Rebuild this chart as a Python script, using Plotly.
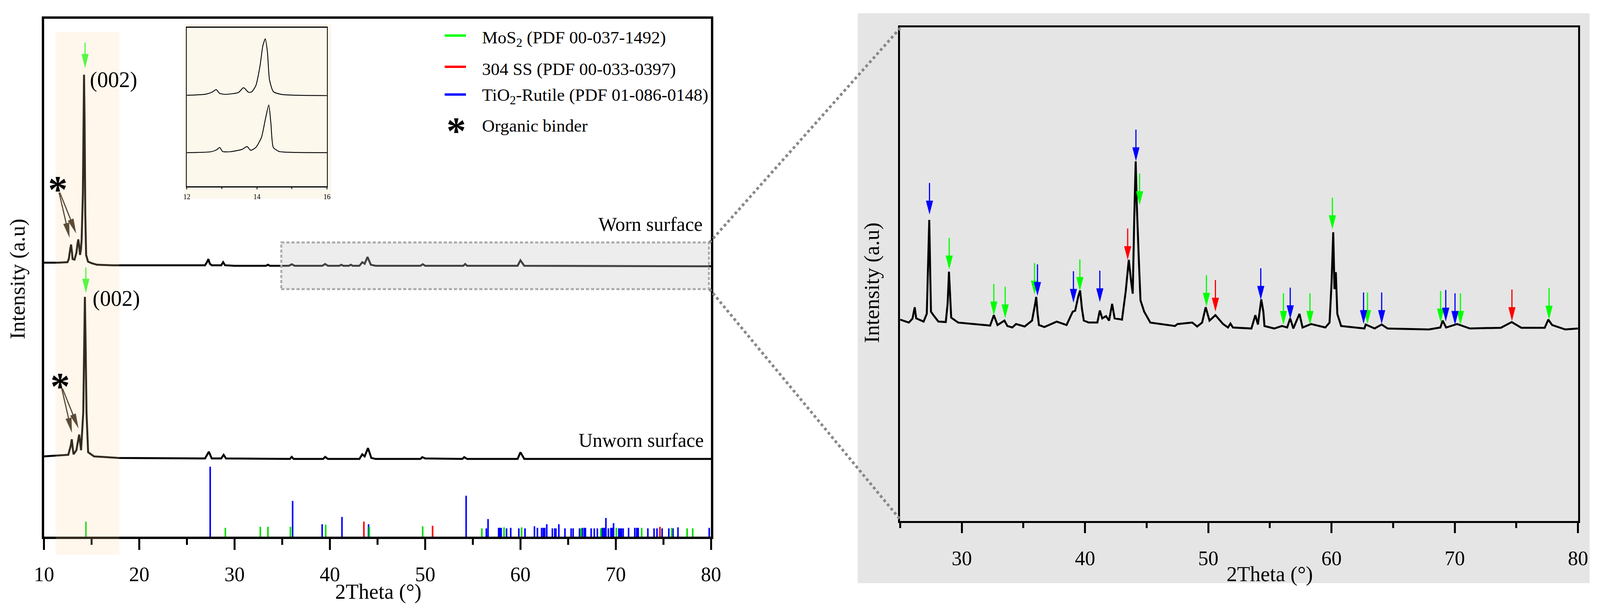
import math
import plotly.graph_objects as go

W_REF, H = 4145, 1549          # reference picture size (coordinates below are read in it)
W = 4096                       # width actually captured by the screenshot
SERIF = "Liberation Serif, Times New Roman, serif"

# ---------------- data ----------------
# Left panel, worn surface pattern (2theta, a.u.)
worn_x = [10.0, 11.5, 12.46, 12.6, 12.75, 12.84, 12.93, 13.0, 13.2, 13.4,
          13.52, 13.6, 13.7, 13.78, 13.88, 13.95, 14.08, 14.15, 14.2, 14.26,
          14.33, 14.42, 14.62, 15.0, 15.56, 17.2, 20.0, 25.0, 26.9, 27.1,
          27.25, 27.4, 27.6, 28.6, 28.8, 29.0, 30.0, 33.3, 33.5, 33.7,
          35.7, 36.0, 36.3, 39.2, 39.5, 39.8, 41.0, 41.2, 41.4, 42.0,
          42.2, 42.4, 43.1, 43.4, 43.65, 43.95, 44.3, 44.8, 49.5, 49.75,
          50.0, 54.0, 54.2, 54.4, 59.7, 60.0, 60.4, 80.0]
worn_y = [52.9, 52.9, 53.0, 53.6, 55.5, 56.4, 55.0, 53.6, 53.5, 54.8,
          56.6, 57.4, 56.0, 54.4, 55.5, 57.4, 66.2, 80.0, 89.2, 80.0,
          62.4, 54.4, 53.1, 52.8, 52.5, 52.4, 52.4, 52.4, 52.4, 53.0,
          53.6, 52.7, 52.4, 52.4, 53.0, 52.4, 52.3, 52.3, 52.5, 52.3,
          52.3, 52.6, 52.3, 52.3, 52.65, 52.3, 52.3, 52.5, 52.3, 52.3,
          52.5, 52.3, 52.3, 53.0, 52.7, 54.0, 52.5, 52.3, 52.3, 52.6,
          52.3, 52.3, 52.65, 52.3, 52.3, 53.35, 52.3, 52.2]

# Left panel, unworn surface pattern
unworn_x = [10.0, 12.55, 12.8, 12.92, 13.02, 13.1, 13.4, 13.6, 13.69, 13.8,
            13.89, 14.12, 14.22, 14.29, 14.36, 14.46, 14.63, 15.25, 17.82, 26.9,
            27.3, 27.6, 28.6, 28.85, 29.1, 35.8, 36.0, 36.2, 39.3, 39.5,
            39.8, 43.1, 43.4, 43.65, 44.0, 44.35, 44.8, 49.5, 49.7, 50.0,
            53.9, 54.1, 54.4, 59.7, 60.0, 60.4, 80.0]
unworn_y = [15.5, 15.8, 17.5, 18.8, 17.0, 15.9, 16.7, 19.0, 19.7, 18.0,
            16.7, 24.0, 38.0, 46.3, 38.0, 24.0, 16.3, 15.5, 15.2, 15.1,
            16.4, 15.1, 15.1, 15.8, 15.1, 15.0, 15.4, 15.0, 15.0, 15.4,
            15.0, 15.0, 15.9, 15.5, 17.1, 15.2, 15.0, 15.0, 15.35, 15.1,
            15.0, 15.35, 15.0, 15.0, 16.3, 15.0, 15.0]

# Reference patterns (stick positions and relative heights)
mos2_ref_x = [14.40, 29.03, 32.70, 33.50, 35.86, 39.56, 44.14, 49.74, 55.95,
              58.28, 60.12, 66.36, 68.43, 70.06, 72.72, 75.88, 77.49, 78.08]
mos2_ref_h = [2.9, 1.7, 1.9, 1.9, 1.9, 2.3, 1.9, 2.0, 1.6,
              1.8, 1.8, 1.6, 1.6, 1.7, 1.7, 1.7, 1.6, 1.6]
ss_ref_x = [43.57, 50.78, 74.64]
ss_ref_h = [2.9, 2.1, 1.9]
tio2_ref_x = [27.44, 36.09, 39.19, 41.27, 44.06, 54.30, 56.42, 56.60, 57.71, 57.84,
              57.97, 58.54, 58.98, 59.83, 60.48, 61.47, 61.78, 62.22, 62.40, 62.55,
              62.76, 63.35, 63.60, 63.72, 64.03, 64.67, 65.32, 65.53, 66.20, 66.49,
              66.69, 66.82, 67.42, 67.75, 68.07, 68.58, 68.74, 68.84, 68.97, 69.23,
              69.49, 69.62, 69.77, 70.32, 70.45, 70.60, 70.78, 71.35, 72.00, 72.20,
              72.36, 73.37, 74.02, 74.33, 74.87, 75.57, 76.01, 76.53, 79.81]
tio2_ref_h = [13.5, 6.9, 2.4, 3.8, 2.4, 7.9, 1.6, 3.4, 1.7, 1.7,
              1.7, 1.6, 1.7, 1.6, 1.6, 2.0, 1.7, 1.7, 1.7, 1.7,
              2.4, 1.6, 1.6, 1.6, 2.4, 1.6, 1.6, 1.6, 1.6, 1.7,
              1.7, 1.7, 1.6, 1.6, 1.6, 1.7, 1.7, 1.7, 3.6, 1.6,
              1.7, 1.7, 2.6, 1.6, 1.6, 1.6, 1.6, 1.7, 1.7, 1.7,
              1.7, 1.6, 1.6, 1.6, 1.6, 1.6, 1.6, 1.8, 1.7]

# (002) markers on the left panel: position and arrow tip height
left_arrow_x = [14.31, 14.39]
left_arrow_tip = [90.54, 47.13]

# Inset (12-16 deg)
inset_worn_x = [12.0, 12.54, 12.73, 12.84, 12.93, 13.08, 13.47, 13.62, 13.76, 13.85,
                13.97, 14.09, 14.17, 14.24, 14.30, 14.36, 14.47, 14.71, 15.17, 16.0]
inset_worn_y = [57.4, 58.1, 59.5, 61.0, 58.7, 58.0, 59.1, 62.2, 59.3, 59.5,
                63.5, 76.0, 88.6, 93.0, 84.8, 67.2, 59.7, 57.9, 57.4, 57.2]
inset_unworn_x = [12.0, 12.69, 12.85, 12.94, 13.02, 13.24, 13.58, 13.72, 13.82,
                  13.97, 14.13, 14.24, 14.34, 14.40, 14.47, 14.63, 15.01, 16.0]
inset_unworn_y = [21.2, 21.8, 23.0, 24.5, 22.0, 21.8, 23.3, 25.1, 22.7,
                  24.5, 30.8, 42.1, 51.3, 39.6, 24.5, 22.0, 21.4, 21.2]

# Right panel: magnified worn pattern
zoom_x = [25.0, 25.7, 26.0, 26.18, 26.3, 26.9, 27.16, 27.28, 27.36, 27.44,
          27.5, 27.7, 28.1, 28.7, 28.85, 28.96, 29.06, 29.14, 29.7, 31.3,
          32.3, 32.6, 32.9, 33.46, 33.7, 34.1, 34.4, 35.1, 35.7, 35.95,
          36.04, 36.15, 36.26, 36.7, 37.7, 38.5, 39.0, 39.2, 39.45, 39.6,
          39.75, 39.9, 40.3, 41.0, 41.2, 41.4, 41.7, 41.95, 42.2, 42.4,
          43.0, 43.3, 43.55, 43.72, 43.87, 44.0, 44.11, 44.2, 44.27, 44.38,
          44.5, 44.8, 45.3, 47.3, 47.5, 48.7, 49.1, 49.5, 49.79, 50.1,
          50.58, 51.2, 51.6, 51.8, 52.0, 53.5, 53.82, 54.03, 54.3, 54.47,
          54.56, 55.35, 55.98, 56.4, 56.65, 56.9, 57.4, 57.65, 58.34, 59.5,
          59.84, 60.0, 60.14, 60.24, 60.35, 60.47, 60.78, 62.67, 62.77, 63.5,
          64.07, 64.55, 67.9, 68.83, 69.02, 69.3, 70.19, 71.23, 73.74, 74.62,
          75.4, 77.3, 77.59, 77.9, 78.97, 80.0]
zoom_y = [40.8, 40.2, 41.0, 43.3, 41.05, 40.4, 42.0, 52.0, 61.0, 50.0,
          42.4, 41.7, 40.4, 40.3, 44.0, 50.5, 44.0, 41.2, 40.2, 39.8,
          39.6, 41.7, 39.7, 40.6, 39.5, 39.2, 39.9, 39.4, 40.6, 44.0,
          45.4, 42.0, 39.7, 39.3, 40.4, 39.7, 42.4, 42.6, 45.5, 46.7,
          43.0, 40.6, 40.2, 40.2, 42.65, 41.05, 41.5, 40.6, 44.0, 41.05,
          40.8, 46.5, 52.9, 49.0, 46.05, 62.0, 72.85, 64.0, 60.1, 52.0,
          44.7, 42.4, 40.2, 39.5, 39.9, 40.2, 39.4, 40.2, 43.3, 40.6,
          41.7, 39.9, 39.2, 40.0, 39.2, 39.0, 41.7, 39.8, 44.9, 42.4,
          39.5, 39.0, 39.5, 39.2, 41.05, 39.0, 41.97, 39.2, 39.9, 39.2,
          40.2, 48.0, 58.5, 46.97, 50.4, 41.97, 39.5, 39.0, 39.8, 39.0,
          39.8, 39.0, 38.8, 39.2, 40.6, 39.2, 39.9, 39.0, 39.15, 40.3,
          39.15, 39.15, 40.8, 39.7, 38.8, 39.0]

# Phase identification arrows on the right panel (position, tip height)
mos2_arrow_x = [28.98, 32.6, 33.52, 35.9, 39.58, 44.43, 49.85, 56.1, 58.25, 60.07,
                62.92, 68.85, 70.46, 77.65]
mos2_arrow_tip = [51.05, 41.74, 41.15, 45.96, 46.7, 64.08, 43.5, 39.83, 39.83, 59.2,
                  40.0, 40.3, 39.83, 40.9]
ss_arrow_x = [43.46, 50.58, 74.64]
ss_arrow_tip = [52.96, 42.51, 40.6]
tio2_arrow_x = [27.38, 36.14, 39.06, 41.2, 44.13, 54.26, 56.65, 62.6, 64.07, 69.27, 70.02]
tio2_arrow_tip = [62.17, 45.69, 44.3, 44.42, 72.98, 44.9, 40.97, 40.0, 40.0, 40.5, 39.83]

legend_labels = ["MoS<sub>2</sub> (PDF 00-037-1492)",
                 "304 SS (PDF 00-033-0397)",
                 "TiO<sub>2</sub>-Rutile (PDF 01-086-0148)",
                 "Organic binder"]

GREEN, RED, BLUE = "#00ff00", "#ff0000", "#0000ff"
STICK_GREEN = "#00dd00"
ARROW_GREEN = "#2bff2b"
DARK = "#33291c"


def PX(v):
    return v / W_REF


def PY(v):
    return 1 - v / H


KX = W / W_REF   # horizontal pixel scale of the rendered figure


def sticks(xs, hs):
    X, Y = [], []
    for a, h in zip(xs, hs):
        X += [a, a, None]
        Y += [0, h, None]
    return X, Y


fig = go.Figure()

# main curves
fig.add_trace(go.Scatter(x=worn_x, y=worn_y, mode="lines", line=dict(color="black", width=5),
                         xaxis="x", yaxis="y", hoverinfo="skip"))
fig.add_trace(go.Scatter(x=unworn_x, y=unworn_y, mode="lines", line=dict(color="black", width=5),
                         xaxis="x", yaxis="y", hoverinfo="skip"))
for xs, hs, col in [(tio2_ref_x, tio2_ref_h, BLUE), (mos2_ref_x, mos2_ref_h, STICK_GREEN),
                    (ss_ref_x, ss_ref_h, RED)]:
    sx, sy = sticks(xs, hs)
    fig.add_trace(go.Scatter(x=sx, y=sy, mode="lines", line=dict(color=col, width=4),
                             xaxis="x", yaxis="y", hoverinfo="skip", connectgaps=False))

# inset
for ix, iy in [(inset_worn_x, inset_worn_y), (inset_unworn_x, inset_unworn_y)]:
    fig.add_trace(go.Scatter(x=ix, y=iy, mode="lines",
                             line=dict(color="black", width=2.2, shape="spline", smoothing=0.6),
                             xaxis="x3", yaxis="y3", hoverinfo="skip"))

# right panel
fig.add_trace(go.Scatter(x=zoom_x, y=zoom_y, mode="lines", line=dict(color="black", width=5),
                         xaxis="x2", yaxis="y2", hoverinfo="skip"))

shapes = []
# backgrounds
shapes.append(dict(type="rect", xref="paper", yref="paper", x0=PX(2222), x1=PX(4118),
                   y0=PY(1493), y1=PY(34), fillcolor="#e5e5e5", line=dict(width=0), layer="below"))
shapes.append(dict(type="rect", xref="paper", yref="paper", x0=PX(477), x1=PX(858),
                   y0=PY(509), y1=PY(61), fillcolor="#fdf8ec", line=dict(width=0), layer="below"))


def v_arrow(x, tip, length, hw, hl, color, xr, yr, lw):
    shapes.append(dict(type="line", xref=xr, yref=yr, x0=x, x1=x, y0=tip + length, y1=tip + hl * 0.8,
                       line=dict(color=color, width=lw), layer="above"))
    shapes.append(dict(type="path", xref=xr, yref=yr,
                       path=f"M{x - hw},{tip + hl} L{x + hw},{tip + hl} L{x},{tip} Z",
                       fillcolor=color, line=dict(color=color, width=0.5), layer="above"))


def p_arrow(x0, y0, x1, y1, color, lw, hl, hw):
    # geometry in reference pixels, converted to paper fractions
    dx, dy = (x1 - x0) * KX, y1 - y0
    L = math.hypot(dx, dy)
    ux, uy = dx / L, dy / L
    bx, by = x1 * KX - ux * hl, y1 - uy * hl
    nx, ny = -uy, ux

    def fx(v):
        return v / W

    shapes.append(dict(type="line", xref="paper", yref="paper", x0=PX(x0), y0=PY(y0),
                       x1=fx(bx + ux * 4), y1=PY(by + uy * 4), line=dict(color=color, width=lw),
                       layer="above"))
    path = (f"M{fx(bx + nx * hw)},{PY(by + ny * hw)} L{fx(bx - nx * hw)},{PY(by - ny * hw)} "
            f"L{PX(x1)},{PY(y1)} Z")
    shapes.append(dict(type="path", xref="paper", yref="paper", path=path, fillcolor=color,
                       line=dict(color=color, width=0.5), layer="above"))


# right panel arrows
for xs, tips, col in [(mos2_arrow_x, mos2_arrow_tip, GREEN), (ss_arrow_x, ss_arrow_tip, RED),
                      (tio2_arrow_x, tio2_arrow_tip, BLUE)]:
    for a, t in zip(xs, tips):
        v_arrow(a, t, 6.3, 0.28, 2.7, col, "x2", "y2", 3)

# left (002) arrows
for a, t in zip(left_arrow_x, left_arrow_tip):
    v_arrow(a, t, 4.85, 0.36, 2.64, ARROW_GREEN, "x", "y", 3)

# gray highlight box on the worn pattern
shapes.append(dict(type="rect", xref="x", yref="y", x0=34.9, x1=79.78, y0=47.8, y1=56.8,
                   fillcolor="rgba(200,200,200,0.33)",
                   line=dict(color="#aaaaaa", width=5, dash="8px,5px"), layer="above"))
# connectors to the right panel
shapes.append(dict(type="line", xref="paper", yref="paper", x0=PX(1838), y0=PY(621),
                   x1=PX(2332), y1=PY(72), line=dict(color="#888888", width=7, dash="dot"), layer="above"))
shapes.append(dict(type="line", xref="paper", yref="paper", x0=PX(1838), y0=PY(740),
                   x1=PX(2332), y1=PY(1330), line=dict(color="#888888", width=7, dash="dot"), layer="above"))

# organic binder arrows
p_arrow(153, 493, 180, 608, DARK, 3, 37, 7.5)
p_arrow(155, 493, 197, 597, DARK, 3, 37, 7.5)
p_arrow(160, 995, 186, 1107, DARK, 3, 37, 7.5)
p_arrow(162, 995, 203, 1096, DARK, 3, 37, 7.5)

# cream highlight band (drawn over everything)
shapes.append(dict(type="rect", xref="paper", yref="paper", x0=PX(144), x1=PX(309),
                   y0=PY(1420), y1=PY(82), fillcolor="rgba(255,215,160,0.2)",
                   line=dict(width=0), layer="above"))

# legend lines
for yy, col in [(91, GREEN), (171, RED), (242, BLUE)]:
    shapes.append(dict(type="line", xref="paper", yref="paper", x0=PX(1152), x1=PX(1207),
                       y0=PY(yy), y1=PY(yy), line=dict(color=col, width=6), layer="above"))

ann = []


def text(x, y, s, size, xanchor="center", yanchor="middle", angle=0, bold=False):
    ann.append(dict(x=PX(x), y=PY(y), xref="paper", yref="paper", text=s, showarrow=False,
                    xanchor=xanchor, yanchor=yanchor, textangle=angle,
                    font=dict(family=SERIF, size=size, color="black",
                              weight="bold" if bold else "normal")))


for yy, lab in zip([99, 177, 246, 322], legend_labels):
    text(1247, yy, lab, 45, xanchor="left")
text(1182, 335, "*", 100, bold=True)
text(150, 484, "*", 100, bold=True)
text(156, 988, "*", 100, bold=True)
text(231, 205, "(002)", 56, xanchor="left")
text(238, 764, "(002)", 56, xanchor="left")
text(1823, 574, "Worn surface", 50, xanchor="right")
text(1826, 1127, "Unworn surface", 50, xanchor="right")
text(980, 1515, "2Theta (°)", 54)
text(3289, 1470, "2Theta (°)", 54)
text(45, 714, "Intensity (a.u)", 55, angle=-90)
text(2259, 724, "Intensity (a.u)", 55, angle=-90)

tickfont = dict(family=SERIF, size=52, color="black")
common = dict(showgrid=False, zeroline=False, showline=True, linecolor="black", mirror=True,
              automargin=False)

fig.update_layout(
    template="none",
    width=W, height=H, autosize=False,
    margin=dict(l=0, r=0, t=0, b=0, pad=0),
    paper_bgcolor="white", plot_bgcolor="rgba(0,0,0,0)",
    showlegend=False,
    shapes=shapes, annotations=ann,
    xaxis=dict(domain=[PX(114), PX(1842)], range=[10, 80], anchor="y", linewidth=6,
               ticks="outside", ticklen=28, tickwidth=5, tickcolor="black", tick0=10, dtick=10,
               minor=dict(dtick=5, tick0=10, ticklen=15, tickwidth=5, ticks="outside", tickcolor="black"),
               tickfont=tickfont, ticklabelstandoff=18, **common),
    yaxis=dict(domain=[PY(1374), PY(48)], range=[0, 100], anchor="x", linewidth=6,
               ticks="", showticklabels=False, **common),
    xaxis2=dict(domain=[PX(2332), PX(4088)], range=[25, 80], anchor="y2", linewidth=5,
                ticks="outside", ticklen=26, tickwidth=5, tickcolor="black", tick0=30, dtick=10,
                minor=dict(dtick=5, tick0=25, ticklen=13, tickwidth=5, ticks="outside", tickcolor="black"),
                tickfont=tickfont, ticklabelstandoff=20, **common),
    yaxis2=dict(domain=[PY(1334), PY(70)], range=[0, 100], anchor="x2", linewidth=5,
                ticks="", showticklabels=False, **common),
    xaxis3=dict(domain=[PX(484), PX(847)], range=[12, 16], anchor="y3", linewidth=2.5,
                ticks="outside", ticklen=5, tickwidth=2, tickcolor="black", tick0=12, dtick=2,
                minor=dict(dtick=1, ticklen=4, tickwidth=2, ticks="outside", tickcolor="black"),
                tickfont=dict(family=SERIF, size=18, color="black"), ticklabelstandoff=4, **common),
    yaxis3=dict(domain=[PY(477), PY(71)], range=[0, 100], anchor="x3", linewidth=2,
                ticks="", showticklabels=False, **common),
)

fig.write_html("out.html", config={"displayModeBar": False},
               post_script="document.body.style.margin='0';document.body.style.overflow='hidden';")
